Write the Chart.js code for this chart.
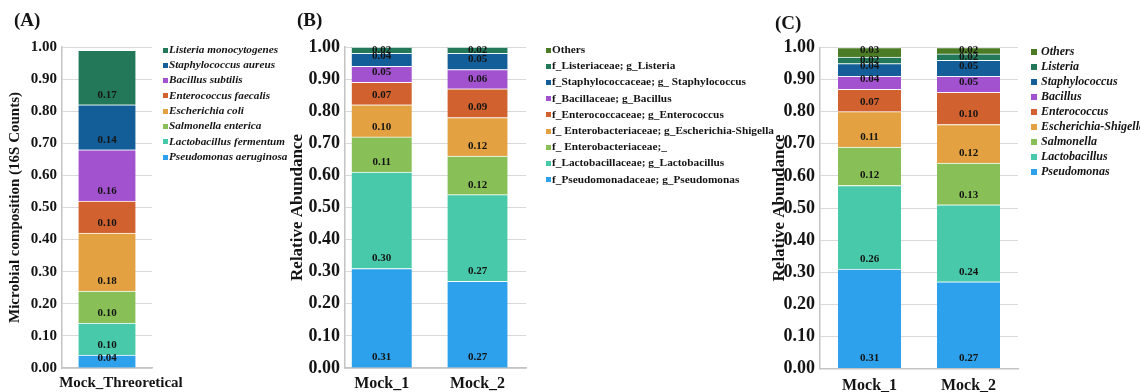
<!DOCTYPE html>
<html>
<head>
<meta charset="utf-8">
<title>Mock community composition</title>
<script src="https://cdn.jsdelivr.net/npm/chart.js@4.4.1/dist/chart.umd.min.js"></script>
<style>
  html, body { margin: 0; padding: 0; background: #ffffff; }
  #figure { position: relative; width: 1140px; height: 392px; overflow: hidden; background: #ffffff; }
  #figure canvas { position: absolute; top: 0; }
</style>
</head>
<body>
<div id="figure">
  <canvas id="panelA" width="290" height="392" style="left:0px;width:290px;height:392px"></canvas>
  <canvas id="panelB" width="496" height="392" style="left:284px;width:496px;height:392px"></canvas>
  <canvas id="panelC" width="374" height="392" style="left:766px;width:374px;height:392px"></canvas>
</div>
<script>
// Colours shared by the taxa, bottom of the stack first
const taxonColors = ['#2EA1EC', '#48C9A9', '#88C057', '#E3A142', '#D1622F', '#A352CF', '#135E99', '#23785A', '#4B7B25'];

// (A) theoretical composition of the mock community
const aCategories = ['Mock_Threoretical'];
const aTaxa = ['Pseudomonas aeruginosa', 'Lactobacillus fermentum', 'Salmonella enterica', 'Escherichia coli',
  'Enterococcus faecalis', 'Bacillus subtilis', 'Staphylococcus aureus', 'Listeria monocytogenes'];
const aTheoretical = [0.04, 0.10, 0.10, 0.18, 0.10, 0.16, 0.14, 0.17];

// (B) family/genus level relative abundance
const bCategories = ['Mock_1', 'Mock_2'];
const bTaxa = ['f_Pseudomonadaceae; g_Pseudomonas', 'f_Lactobacillaceae; g_Lactobacillus', 'f_ Enterobacteriaceae;_',
  'f_ Enterobacteriaceae; g_Escherichia-Shigella', 'f_Enterococcaceae; g_Enterococcus', 'f_Bacillaceae; g_Bacillus',
  'f_Staphylococcaceae; g_ Staphylococcus', 'f_Listeriaceae; g_Listeria', 'Others'];
const bMock1 = [0.31, 0.30, 0.11, 0.10, 0.07, 0.05, 0.04, 0.02, 0];
const bMock2 = [0.27, 0.27, 0.12, 0.12, 0.09, 0.06, 0.05, 0.02, 0];

// (C) genus level relative abundance
const cCategories = ['Mock_1', 'Mock_2'];
const cTaxa = ['Pseudomonas', 'Lactobacillus', 'Salmonella', 'Escherichia-Shigella', 'Enterococcus',
  'Bacillus', 'Staphylococcus', 'Listeria', 'Others'];
const cMock1 = [0.31, 0.26, 0.12, 0.11, 0.07, 0.04, 0.04, 0.02, 0.03];
const cMock2 = [0.27, 0.24, 0.13, 0.12, 0.10, 0.05, 0.05, 0.02, 0.02];

// Y axis runs 0.00 to 1.00 in steps of 0.10
const yMin = 0, yMax = 1, yStep = 0.1;

const serif = '"Liberation Serif", "Times New Roman", serif';
const ink = '#141414';

// Writes each segment's share just inside the bottom of the segment
const valueLabels = {
  id: 'valueLabels',
  afterDatasetsDraw(chart) {
    const ctx = chart.ctx;
    ctx.save();
    ctx.font = 'bold 11px ' + serif;
    ctx.fillStyle = ink;
    ctx.textAlign = 'center';
    ctx.textBaseline = 'middle';
    chart.data.datasets.forEach((ds, i) => {
      chart.getDatasetMeta(i).data.forEach((bar, j) => {
        const v = ds.data[j].y;
        if (!(v >= 0.01)) return;
        const p = bar.getProps(['x', 'y', 'base'], true);
        const ty = Math.max(p.y + 3, p.base - 10);
        ctx.fillText(v.toFixed(2), p.x, ty);
      });
    });
    ctx.restore();
  }
};

// Legend column to the right of the plot, top of the stack listed first
function sideLegend(opt) {
  return {
    id: 'sideLegend',
    afterDraw(chart) {
      const ctx = chart.ctx;
      const items = chart.data.datasets.map(ds => ({ text: ds.label, color: ds.backgroundColor })).reverse();
      ctx.save();
      ctx.font = opt.legendFont;
      ctx.textAlign = 'left';
      ctx.textBaseline = 'middle';
      items.forEach((it, k) => {
        const cy = opt.legendY + k * opt.legendStep;
        ctx.fillStyle = it.color;
        ctx.fillRect(opt.legendX, Math.round(cy - opt.box / 2), opt.box, opt.box);
        ctx.fillStyle = ink;
        ctx.fillText(it.text, opt.legendTextX, cy);
      });
      ctx.restore();
    }
  };
}

// Panel letter in the upper left corner
function panelTag(opt) {
  return {
    id: 'panelTag',
    afterDraw(chart) {
      const ctx = chart.ctx;
      ctx.save();
      ctx.font = 'bold 19px ' + serif;
      ctx.fillStyle = ink;
      ctx.textAlign = 'left';
      ctx.textBaseline = 'middle';
      ctx.fillText(opt.tag, opt.tagX, opt.tagY);
      ctx.restore();
    }
  };
}

function buildPanel(canvasId, categories, taxa, samples, opt) {
  const datasets = taxa.map((name, i) => ({
    label: name,
    data: categories.map((_, j) => ({ x: j, y: samples[j][i] })),
    backgroundColor: taxonColors[i],
    borderColor: 'rgba(255,255,255,0.85)',
    borderWidth: { top: 1, right: 0, bottom: 0, left: 0 },
    borderSkipped: false,
    barThickness: opt.barThickness
  }));

  return new Chart(document.getElementById(canvasId), {
    type: 'bar',
    data: { datasets },
    options: {
      responsive: false,
      animation: false,
      devicePixelRatio: 1,
      events: [],
      layout: { padding: { left: 0, top: opt.top, right: opt.right, bottom: 0 } },
      plugins: { legend: { display: false }, tooltip: { enabled: false }, title: { display: false } },
      scales: {
        x: {
          type: 'linear',
          stacked: true,
          offset: false,
          min: opt.xMin,
          max: opt.xMax,
          afterBuildTicks: s => { s.ticks = categories.map((_, j) => ({ value: j })); },
          afterFit: s => { s.height = opt.xHeight; },
          grid: { display: false, drawTicks: false, offset: false },
          border: { display: true, color: '#c4c4c4', width: 1.5 },
          ticks: {
            autoSkip: false, maxRotation: 0, padding: opt.xPad, labelOffset: opt.labelShift,
            color: ink, font: { family: serif, size: opt.catSize, weight: 'bold' },
            callback: v => categories[v] !== undefined ? categories[v] : ''
          }
        },
        y: {
          stacked: true,
          min: yMin,
          max: yMax,
          afterFit: s => { s.width = opt.yWidth; },
          grid: { color: '#d9d9d9', lineWidth: 1, drawTicks: false },
          border: { display: true, color: '#c4c4c4', width: 1.5 },
          ticks: {
            stepSize: yStep, padding: 5,
            color: ink, font: { family: serif, size: opt.tickSize, weight: 'bold' },
            callback: v => Number(v).toFixed(2)
          },
          title: {
            display: true, text: opt.yTitle, color: ink,
            font: { family: serif, size: opt.titleSize, weight: 'bold' },
            padding: { top: opt.titlePad, bottom: 0 }
          }
        }
      }
    },
    plugins: [valueLabels, sideLegend(opt), panelTag(opt)]
  });
}

buildPanel('panelA', aCategories, aTaxa, [aTheoretical], {
  top: 47, right: 138, yWidth: 62, xHeight: 24, xPad: 6, labelShift: 14,
  xMin: -0.5, xMax: 0.5, barThickness: 57, tickSize: 15, titleSize: 15, catSize: 15,
  yTitle: 'Microbial composition (16S Counts)', titlePad: 6,
  tag: '(A)', tagX: 14, tagY: 21,
  legendX: 163, legendTextX: 169, legendY: 50, legendStep: 15.3, box: 5,
  legendFont: 'italic bold 11.2px ' + serif
});

buildPanel('panelB', bCategories, bTaxa, [bMock1, bMock2], {
  top: 47, right: 254, yWidth: 61, xHeight: 24, xPad: 6, labelShift: 0,
  xMin: -0.383, xMax: 1.506, barThickness: 60, tickSize: 18, titleSize: 17, catSize: 16,
  yTitle: 'Relative Abundance', titlePad: 3,
  tag: '(B)', tagX: 13, tagY: 21,
  legendX: 262, legendTextX: 268, legendY: 50, legendStep: 16.2, box: 5,
  legendFont: 'bold 11.3px ' + serif
});

buildPanel('panelC', cCategories, cTaxa, [cMock1, cMock2], {
  top: 47.5, right: 122, yWidth: 54, xHeight: 23.5, xPad: 8, labelShift: 0,
  xMin: -0.5, xMax: 1.5, barThickness: 63, tickSize: 18, titleSize: 17, catSize: 16,
  yTitle: 'Relative Abundance', titlePad: 3,
  tag: '(C)', tagX: 9, tagY: 24,
  legendX: 265, legendTextX: 275, legendY: 52, legendStep: 15, box: 6,
  legendFont: 'italic bold 12px ' + serif
});
</script>
</body>
</html>
